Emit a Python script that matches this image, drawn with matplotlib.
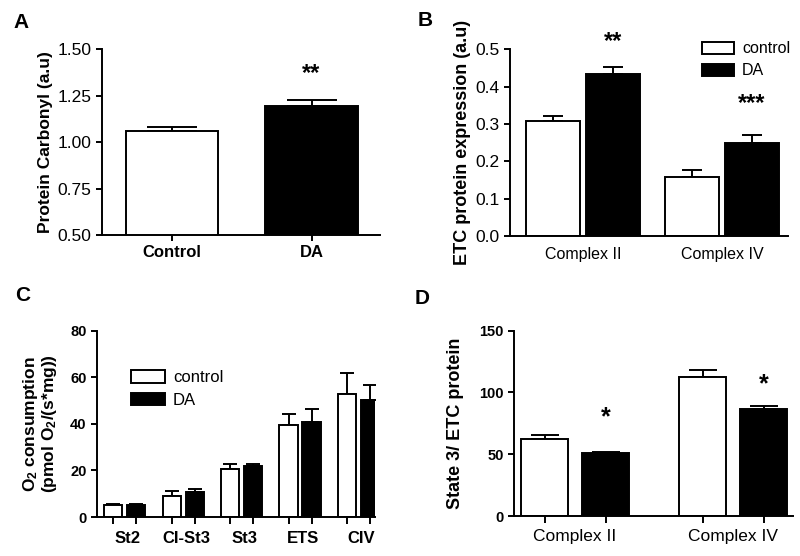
import numpy as np
import matplotlib
matplotlib.use("Agg")
import matplotlib.pyplot as plt
from matplotlib.patches import Patch

plt.rcParams['font.family'] = ['Liberation Sans', 'DejaVu Sans']
plt.rcParams['mathtext.fontset'] = 'custom'
plt.rcParams['mathtext.rm'] = 'Liberation Sans:bold'
plt.rcParams['mathtext.default'] = 'rm'

# Panel A: protein carbonyl
a_groups = ['Control', 'DA']
a_means = [1.061, 1.194]
a_err = [0.022, 0.032]

# Panel B: ETC protein expression
b_groups = ['Complex II', 'Complex IV']
b_control = [0.309, 0.157]
b_control_err = [0.012, 0.020]
b_da = [0.434, 0.250]
b_da_err = [0.018, 0.020]

# Panel C: O2 consumption
c_groups = ['St2', 'CI-St3', 'St3', 'ETS', 'CIV']
c_control = [5.0, 9.0, 20.5, 39.4, 52.8]
c_control_err = [0.8, 2.2, 2.4, 4.7, 9.2]
c_da = [5.2, 10.6, 21.8, 40.6, 50.2]
c_da_err = [0.4, 1.5, 1.1, 5.6, 6.6]

# Panel D: state 3 / ETC protein
d_groups = ['Complex II', 'Complex IV']
d_control = [62.7, 112.8]
d_control_err = [3.3, 5.1]
d_da = [50.9, 87.0]
d_da_err = [0.8, 2.1]

LW = 1.4
fig = plt.figure(figsize=(8, 5.56), dpi=100)


def style_axes(ax):
    for s in ['top', 'right']:
        ax.spines[s].set_visible(False)
    for s in ['left', 'bottom']:
        ax.spines[s].set_linewidth(LW)
    ax.tick_params(axis='both', width=LW, length=4, direction='out')


def bars(ax, x, vals, errs, width, color, capsize):
    ax.bar(x, vals, width, color=color, edgecolor='black', linewidth=LW, zorder=2)
    ax.errorbar(x, vals, yerr=[np.zeros(len(vals)), errs], fmt='none',
                ecolor='black', elinewidth=LW, capthick=LW, capsize=capsize, zorder=1)


# ---- A ----
axA = fig.add_axes([0.1275, 0.5773, 0.3475, 0.3345])
style_axes(axA)
xa = np.arange(len(a_groups))
axA.bar(xa, a_means, 0.66, color=['white', 'black'], edgecolor='black', linewidth=LW, zorder=2)
axA.errorbar(xa, a_means, yerr=[np.zeros(2), a_err], fmt='none', ecolor='black',
             elinewidth=LW, capthick=LW, capsize=18, zorder=1)
axA.set_xlim(-0.5, 1.49)
axA.set_ylim(0.5, 1.5)
axA.set_yticks([0.5, 0.75, 1.0, 1.25, 1.5])
axA.set_yticklabels(['0.50', '0.75', '1.00', '1.25', '1.50'], fontsize=12.5)
axA.set_xticks(xa)
axA.set_xticklabels(a_groups, fontsize=12, fontweight='bold')
axA.set_ylabel('Protein Carbonyl (a.u)', fontsize=12.5, fontweight='bold', labelpad=3)
axA.text(1, 1.37, '**', ha='center', va='center', fontsize=17, fontweight='bold')
fig.text(0.026, 0.96, 'A', fontsize=15, fontweight='bold', ha='center', va='center')

# ---- B ----
axB = fig.add_axes([0.6375, 0.5755, 0.3475, 0.3358])
style_axes(axB)
xb = np.arange(len(b_groups))
bars(axB, xb - 0.216, b_control, b_control_err, 0.39, 'white', 7)
bars(axB, xb + 0.216, b_da, b_da_err, 0.39, 'black', 7)
axB.set_xlim(-0.525, 1.475)
axB.set_ylim(0, 0.5)
axB.set_yticks([0, 0.1, 0.2, 0.3, 0.4, 0.5])
axB.set_yticklabels(['0.0', '0.1', '0.2', '0.3', '0.4', '0.5'], fontsize=12.5)
axB.set_xticks(xb)
axB.set_xticklabels(b_groups, fontsize=11.5)
axB.tick_params(axis='x', length=0, pad=8)
axB.set_ylabel('ETC protein expression (a.u)', fontsize=13, fontweight='bold', labelpad=3)
axB.text(xb[0] + 0.216, 0.52, '**', ha='center', va='center', fontsize=17,
         fontweight='bold', clip_on=False)
axB.text(xb[1] + 0.216, 0.355, '***', ha='center', va='center', fontsize=17, fontweight='bold')
axB.legend(handles=[Patch(facecolor='white', edgecolor='black', linewidth=LW, label='control'),
                    Patch(facecolor='black', edgecolor='black', linewidth=LW, label='DA')],
           loc='upper left', bbox_to_anchor=(0.64, 1.12), frameon=False, fontsize=11.5,
           handlelength=2.0, handleheight=0.8, handletextpad=0.5, labelspacing=0.45)
fig.text(0.531, 0.964, 'B', fontsize=15, fontweight='bold', ha='center', va='center')

# ---- C ----
axC = fig.add_axes([0.121, 0.0701, 0.3475, 0.335])
style_axes(axC)
xc = np.arange(len(c_groups))
bars(axC, xc - 0.197, c_control, c_control_err, 0.31, 'white', 5)
bars(axC, xc + 0.197, c_da, c_da_err, 0.31, 'black', 5)
axC.set_xlim(-0.48, 4.28)
axC.set_ylim(0, 80)
axC.set_yticks([0, 20, 40, 60, 80])
axC.set_yticklabels(['0', '20', '40', '60', '80'], fontsize=10.5, fontweight='bold')
axC.set_xticks(np.concatenate([xc - 0.197, xc + 0.197]), minor=True)
axC.set_xticks(xc + 0.05)
axC.set_xticklabels(c_groups, fontsize=12, fontweight='bold')
axC.tick_params(axis='x', which='major', length=0, pad=10)
axC.tick_params(axis='x', which='minor', length=5, width=LW)
axC.set_ylabel('O$_2$ consumption\n(pmol O$_2$/(s*mg))', fontsize=12.5, fontweight='bold',
               labelpad=8, linespacing=1.0)
axC.legend(handles=[Patch(facecolor='white', edgecolor='black', linewidth=LW, label='control'),
                    Patch(facecolor='black', edgecolor='black', linewidth=LW, label='DA')],
           loc='upper left', bbox_to_anchor=(0.07, 0.87), frameon=False, fontsize=12,
           handlelength=2.0, handleheight=0.8, handletextpad=0.5, labelspacing=0.45)
fig.text(0.028, 0.468, 'C', fontsize=15, fontweight='bold', ha='center', va='center')

# ---- D ----
axD = fig.add_axes([0.6425, 0.0714, 0.349, 0.334])
style_axes(axD)
xd = np.arange(len(d_groups))
bars(axD, xd - 0.193, d_control, d_control_err, 0.30, 'white', 10)
bars(axD, xd + 0.193, d_da, d_da_err, 0.30, 'black', 10)
axD.set_xlim(-0.386, 1.38)
axD.set_ylim(0, 150)
axD.set_yticks([0, 50, 100, 150])
axD.set_yticklabels(['0', '50', '100', '150'], fontsize=10.5, fontweight='bold')
axD.set_xticks(np.concatenate([xd - 0.193, xd + 0.193]), minor=True)
axD.set_xticks(xd)
axD.set_xticklabels(d_groups, fontsize=12.5)
axD.tick_params(axis='x', which='major', length=0, pad=9)
axD.tick_params(axis='x', which='minor', length=5, width=LW)
axD.set_ylabel('State 3/ ETC protein', fontsize=13, fontweight='bold', labelpad=11)
axD.text(xd[0] + 0.193, 80, '*', ha='center', va='center', fontsize=18, fontweight='bold')
axD.text(xd[1] + 0.193, 107, '*', ha='center', va='center', fontsize=18, fontweight='bold')
fig.text(0.528, 0.464, 'D', fontsize=15, fontweight='bold', ha='center', va='center')

fig.savefig('out.png', dpi=100)
